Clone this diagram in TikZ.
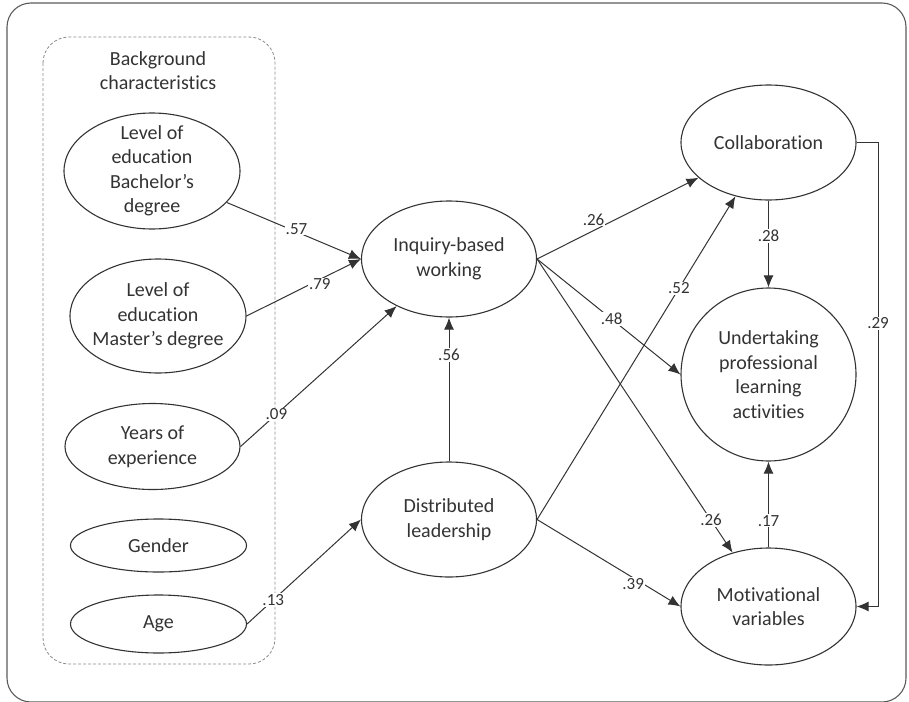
\documentclass[tikz,border=0pt]{standalone}
\usepackage{fontspec}
\setmainfont{Carlito}[Ligatures=NoCommon]
\usetikzlibrary{shapes.geometric,arrows.meta}
\definecolor{ink}{HTML}{333333}
\definecolor{txt}{HTML}{333333}
\definecolor{frame}{HTML}{5A5A5A}
\definecolor{group}{HTML}{8A8A8A}
\begin{document}
\begin{tikzpicture}[x=1pt,y=-1pt,
  vtext/.style={align=center, text=txt, inner sep=0pt,
    font=\fontsize{20}{24.5}\selectfont},
  var/.style 2 args={ellipse, draw=ink, line width=1.1pt, inner sep=0pt,
    minimum width=#1pt, minimum height=#2pt},
  path/.style={draw=ink, line width=1pt, -{Latex[length=12pt,width=10pt]}},
  plain/.style={draw=ink, line width=1pt},
  coef/.style={fill=white, inner sep=1pt, text=txt,
    font=\fontsize{17}{20}\selectfont},
]
\useasboundingbox (0,0) rectangle (909,701);

% outer frame and the group of background variables
\draw[frame, line width=1.1pt, rounded corners=24pt] (7,3) rectangle (906,702);
\draw[group, line width=0.8pt, dash pattern=on 3pt off 2pt, rounded corners=26pt]
  (43,37) rectangle (275,664);
\node[vtext] (bgtitle) at (158,70.5) {Background\\characteristics};

% latent and observed variables
\node[var={176}{116}, label={[vtext]center:Level of\\education\\Bachelor’s\\degree}] (bach) at (152,171) {};
\node[var={176}{114}, label={[vtext]center:Level of\\education\\Master’s degree}] (mast) at (158,316) {};
\node[var={175}{86}, label={[vtext]center:Years of\\experience}] (years) at (152.5,446.5) {};
\node[var={176}{53}, label={[vtext]center:Gender}] (gender) at (158.5,545.5) {};
\node[var={176}{58}, label={[vtext]center:Age}] (age) at (158.5,624) {};
\node[var={175}{116}, label={[vtext]center:Inquiry-based\\working}] (inq) at (449,259) {};
\node[var={175}{115}, label={[vtext]center:Distributed\\leadership}] (dist) at (449,519.5) {};
\node[var={175}{115}, label={[vtext]center:Collaboration}] (coll) at (768.5,142.5) {};
\node[var={175}{173}, label={[vtext]center:Undertaking\\professional\\learning\\activities}] (undt) at (768.5,374.5) {};
\node[var={175}{117}, label={[vtext]center:Motivational\\variables}] (motv) at (768.5,606.5) {};

% paths with standardised coefficients
\draw[path] (bach) -- node[coef, pos=0.52, yshift=3pt] {.57} (inq.west);
\draw[path] (mast.east) -- node[coef, pos=0.64, yshift=-5pt] {.79} (inq.west);
\draw[path] (years.east) -- node[coef, pos=0.23] {.09} (inq);
\draw[path] (age.east) -- node[coef, pos=0.23] {.13} (dist.west);
\draw[path] (dist.north) -- node[coef, pos=0.74] {.56} (inq.south);
\draw[path] (inq.east) -- node[coef, pos=0.35, yshift=11pt] {.26} (coll);
\draw[path] (dist.east) -- node[coef, pos=0.715] {.52} (coll);
\draw[path] (inq.east) -- node[coef, pos=0.52] {.48} (undt.west);
\draw[path] (inq.east) -- node[coef, pos=0.89] {.26} (motv);
\draw[path] (dist.east) -- node[coef, pos=0.67, yshift=-6pt] {.39} (motv.west);
\draw[path] (coll.south) -- node[coef, pos=0.41] {.28} (undt.north);
\draw[path] (motv.north) -- node[coef, pos=0.31] {.17} (undt.south);
\coordinate (rail) at (878,0);
\draw[plain] (coll.east) -- (coll.east -| rail)
  -- node[coef, pos=0.39] {.29} (motv.east -| rail);
\draw[path] (motv.east -| rail) -- (motv.east);
\end{tikzpicture}
\end{document}
